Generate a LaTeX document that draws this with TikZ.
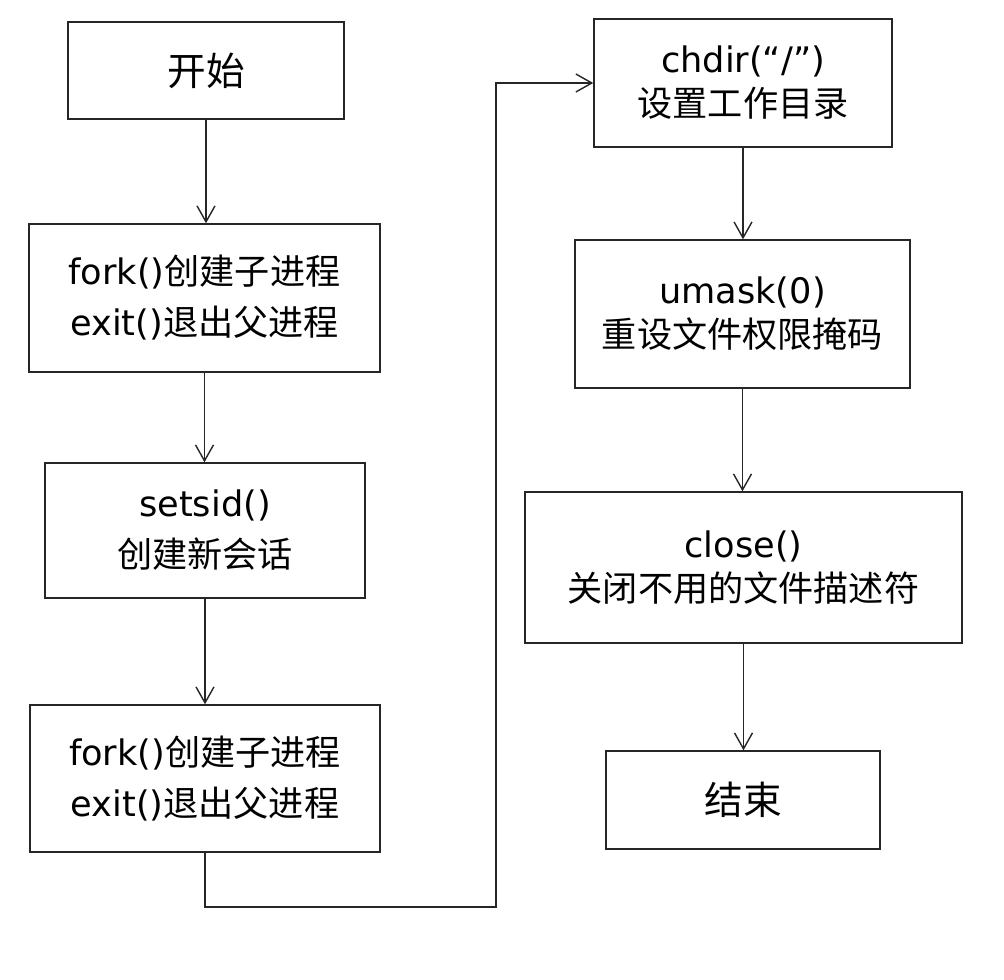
\documentclass[tikz,border=0pt]{standalone}
\usepackage{fontspec}
\setmainfont{DejaVu Sans}
\newfontfamily\cjk{Noto Sans CJK SC}
\usetikzlibrary{arrows.meta}

\begin{document}
\begin{tikzpicture}[
        stepbox/.style={draw=black!85, line width=0.8pt, align=center, inner sep=0pt,
            font=\fontsize{20}{29}\selectfont},
        tightbox/.style={stepbox, font=\fontsize{20}{25}\selectfont},
        endbox/.style={stepbox, font=\fontsize{22}{30}\selectfont\cjk},
        flow/.style={draw=black!85, line width=0.8pt, -{Straight Barb[length=3.2mm, width=3.6mm]}}
    ]
        \useasboundingbox (0,0) rectangle (20.08,-19.6);

        % left column
        \node[endbox, minimum width=5.52cm, minimum height=1.94cm] (start) at (4.12,-1.41) {开始};
        \node[stepbox, minimum width=7.02cm, minimum height=2.96cm] (fork1) at (4.09,-5.96)
            {fork(){\cjk 创建子进程}\\exit(){\cjk 退出父进程}};
        \node[stepbox, minimum width=6.4cm, minimum height=2.7cm] (setsid) at (4.10,-10.61)
            {setsid()\\{\cjk 创建新会话}};
        \node[stepbox, minimum width=7.0cm, minimum height=2.94cm] (fork2) at (4.10,-15.57)
            {fork(){\cjk 创建子进程}\\exit(){\cjk 退出父进程}};

        % right column
        \node[tightbox, minimum width=5.96cm, minimum height=2.56cm] (chdir) at (14.86,-1.66)
            {chdir(“/”)\\{\cjk 设置工作目录}};
        \node[tightbox, minimum width=6.7cm, minimum height=2.96cm] (umask) at (14.85,-6.28)
            {umask(0)\\{\cjk 重设文件权限掩码}};
        \node[tightbox, minimum width=8.74cm, minimum height=3.02cm] (close) at (14.87,-11.35)
            {close()\\{\cjk 关闭不用的文件描述符}};
        \node[endbox, minimum width=5.48cm, minimum height=1.96cm] (end) at (14.86,-16.0) {结束};

        \coordinate (turn) at (9.92,-18.14);

        \draw[flow] (start.south) -- (start.south |- fork1.north);
        \draw[flow] (fork1.south) -- (fork1.south |- setsid.north);
        \draw[flow] (setsid.south) -- (setsid.south |- fork2.north);
        \draw[flow] (fork2.south) |- (turn) |- (chdir.west);
        \draw[flow] (chdir.south) -- (chdir.south |- umask.north);
        \draw[flow] (umask.south) -- (umask.south |- close.north);
        \draw[flow] (close.south) -- (close.south |- end.north);
    \end{tikzpicture}
\end{document}
